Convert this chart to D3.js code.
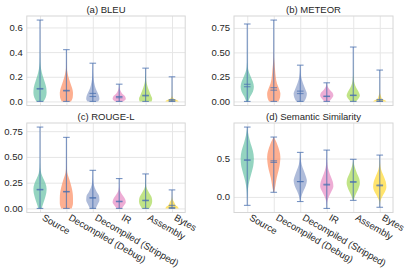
<!DOCTYPE html>
<html>
<head>
<meta charset="utf-8">
<script src="https://cdn.jsdelivr.net/npm/d3@7"></script>
<style>
  body { margin: 0; background: #fff; }
  text { font-family: "Liberation Sans", Arial, sans-serif; fill: #262626; }
  .grid line { stroke: #e6e6e6; stroke-width: 1; }
  .grid path { display: none; }
</style>
</head>
<body>
<div class="chart"></div>
<script>
// categories and panels
var categories = ["Source", "Decompiled (Debug)", "Decompiled (Stripped)", "IR", "Assembly", "Bytes"];
var panelTitles = ["(a) BLEU", "(b) METEOR", "(c) ROUGE-L", "(d) Semantic Similarity"];
var yTicks = [[0, 0.2, 0.4, 0.6], [0, 0.25, 0.5, 0.75], [0, 0.25, 0.5, 0.75], [0, 0.5]];
var yFormats = [".1f", ".2f", ".2f", ".1f"];
var colors = ["#66c2a5", "#fc8d62", "#8da0cb", "#e78ac3", "#a6d854", "#ffd92f"];

// extrema, means, medians (per panel, per category)
var mins = [
  [0, 0, 0, 0, 0, 0],
  [0, 0, 0, 0, 0, 0],
  [0, 0, 0, 0, 0, 0],
  [-0.11, 0.06, -0.06, -0.15, -0.045, -0.135]
];
var maxs = [
  [0.66, 0.42, 0.31, 0.14, 0.27, 0.20],
  [0.79, 0.83, 0.37, 0.19, 0.555, 0.32],
  [0.79, 0.69, 0.37, 0.29, 0.335, 0.18],
  [0.91, 0.78, 0.58, 0.61, 0.49, 0.545]
];
var means = [
  [0.105, 0.09, 0.065, 0.04, 0.05, 0.015],
  [0.175, 0.14, 0.105, 0.055, 0.065, 0.02],
  [0.185, 0.165, 0.105, 0.07, 0.08, 0.03],
  [0.48, 0.47, 0.2, 0.165, 0.2, 0.155]
];
var medians = [
  [0.10, 0.085, 0.04, 0.03, 0.045, 0.005],
  [0.15, 0.115, 0.08, 0.05, 0.06, 0.005],
  [0.18, 0.16, 0.10, 0.065, 0.075, 0.01],
  [0.48, 0.45, 0.2, 0.155, 0.19, 0.145]
];

// violin outlines: [value, relative half width]
var bleuShape = [
  [[0,0.55],[0.03,0.85],[0.07,1.0],[0.11,0.95],[0.16,0.7],[0.21,0.4],[0.26,0.18],[0.32,0.05],[0.4,0.015],[0.5,0.005],[0.66,0]],
  [[0,0.7],[0.03,0.95],[0.07,1.0],[0.11,0.85],[0.15,0.6],[0.2,0.3],[0.25,0.1],[0.3,0.03],[0.42,0]],
  [[0,0.8],[0.02,1.0],[0.05,0.9],[0.09,0.55],[0.13,0.3],[0.18,0.12],[0.23,0.04],[0.31,0]],
  [[0,0.6],[0.02,1.0],[0.04,0.9],[0.06,0.5],[0.08,0.25],[0.1,0.1],[0.14,0]],
  [[0,0.9],[0.02,1.0],[0.05,0.8],[0.09,0.5],[0.13,0.25],[0.17,0.08],[0.27,0]],
  [[0,1.0],[0.01,0.8],[0.02,0.35],[0.03,0.12],[0.05,0.03],[0.2,0]]
];
var meteorShape = [
  [[0,0.15],[0.05,0.45],[0.1,0.85],[0.15,1.0],[0.2,0.85],[0.25,0.55],[0.3,0.25],[0.35,0.08],[0.45,0.02],[0.79,0]],
  [[0,0.7],[0.04,0.95],[0.08,1.0],[0.13,0.8],[0.18,0.5],[0.25,0.3],[0.32,0.2],[0.38,0.12],[0.45,0.04],[0.55,0.01],[0.83,0]],
  [[0,0.6],[0.04,0.9],[0.08,1.0],[0.12,0.8],[0.17,0.5],[0.22,0.25],[0.27,0.1],[0.32,0.03],[0.37,0]],
  [[0,0.35],[0.03,0.75],[0.06,1.0],[0.09,0.85],[0.12,0.45],[0.15,0.15],[0.19,0]],
  [[0,0.4],[0.03,0.8],[0.06,1.0],[0.1,0.8],[0.14,0.45],[0.18,0.2],[0.24,0.06],[0.3,0.02],[0.555,0]],
  [[0,1.0],[0.01,0.85],[0.02,0.5],[0.03,0.3],[0.05,0.2],[0.07,0.1],[0.1,0.02],[0.32,0]]
];
var rougeShape = [
  [[0,0.25],[0.05,0.5],[0.1,0.75],[0.15,0.95],[0.19,1.0],[0.24,0.85],[0.29,0.5],[0.34,0.2],[0.4,0.05],[0.5,0.01],[0.79,0]],
  [[0,0.8],[0.05,1.0],[0.1,1.0],[0.15,0.95],[0.2,0.8],[0.25,0.6],[0.3,0.35],[0.35,0.12],[0.42,0.03],[0.69,0]],
  [[0,0.45],[0.04,0.75],[0.08,1.0],[0.12,0.95],[0.16,0.6],[0.2,0.3],[0.25,0.1],[0.3,0.02],[0.37,0]],
  [[0,0.4],[0.03,0.75],[0.06,1.0],[0.09,0.9],[0.12,0.6],[0.15,0.3],[0.18,0.1],[0.22,0.02],[0.29,0]],
  [[0,0.55],[0.03,0.85],[0.07,1.0],[0.11,0.9],[0.15,0.55],[0.19,0.2],[0.23,0.05],[0.335,0]],
  [[0,1.0],[0.015,0.9],[0.03,0.55],[0.05,0.4],[0.07,0.25],[0.09,0.08],[0.12,0.02],[0.18,0]]
];
var semShape = [
  [[-0.11,0],[0,0.03],[0.1,0.1],[0.2,0.3],[0.3,0.6],[0.4,0.9],[0.5,1.0],[0.6,0.85],[0.7,0.5],[0.8,0.2],[0.91,0]],
  [[0.06,0.05],[0.15,0.25],[0.25,0.45],[0.35,0.75],[0.45,0.95],[0.52,1.0],[0.6,0.85],[0.68,0.55],[0.74,0.25],[0.78,0]],
  [[-0.06,0.02],[0,0.15],[0.08,0.5],[0.15,0.85],[0.21,1.0],[0.28,0.8],[0.35,0.5],[0.42,0.22],[0.5,0.06],[0.58,0]],
  [[-0.15,0],[-0.07,0.05],[0,0.3],[0.07,0.7],[0.14,1.0],[0.2,0.9],[0.27,0.6],[0.34,0.3],[0.42,0.1],[0.5,0.03],[0.61,0]],
  [[-0.045,0.03],[0.02,0.3],[0.1,0.75],[0.18,1.0],[0.24,0.9],[0.3,0.6],[0.37,0.3],[0.43,0.1],[0.49,0]],
  [[-0.135,0],[-0.06,0.08],[0,0.35],[0.06,0.75],[0.13,1.0],[0.2,0.9],[0.27,0.6],[0.33,0.3],[0.4,0.1],[0.47,0.03],[0.545,0]]
];
var shapes = [bleuShape, meteorShape, rougeShape, semShape];

var svgWidth = 415, svgHeight = 277;
var svg = d3.select(".chart").append("svg")
  .attr("width", svgWidth)
  .attr("height", svgHeight);

// panel boxes
var cols = [[26.8, 185.2], [234, 393]];
var rows = [[16, 105.5], [123, 212.5]];
var lineColor = "#4c72b0";

panelTitles.forEach(function(title, p) {
  var xr = cols[p % 2], yr = rows[Math.floor(p / 2)];
  var width = xr[1] - xr[0], height = yr[1] - yr[0];
  var g = svg.append("g").attr("transform", "translate(" + xr[0] + "," + yr[0] + ")");

  var lo = d3.min(mins[p]), hi = d3.max(maxs[p]);
  var pad = (hi - lo) * 0.05;
  var y = d3.scaleLinear().domain([lo - pad, hi + pad]).range([height, 0]);
  var x = d3.scaleLinear().domain([0.5, 6.5]).range([0, width]);
  var halfW = x(1.25) - x(1);
  var capW = x(1.125) - x(1);

  // grid
  g.append("g").attr("class", "grid")
    .call(d3.axisLeft(y).tickValues(yTicks[p]).tickFormat(d3.format(yFormats[p]))
      .tickSize(-width).tickPadding(4))
    .selectAll("text").attr("font-size", "9.5px").style("font-family", "Liberation Sans, Arial, sans-serif").attr("fill", "#262626");
  g.append("g").attr("class", "grid")
    .attr("transform", "translate(0," + height + ")")
    .call(d3.axisBottom(x).tickValues([1, 2, 3, 4, 5, 6]).tickFormat("").tickSize(-height));

  // violins
  var area = d3.area()
    .y(function(d) { return y(d[0]); })
    .x0(function(d) { return -d[1] * halfW; })
    .x1(function(d) { return d[1] * halfW; })
    .curve(d3.curveMonotoneY);

  categories.forEach(function(c, i) {
    var cx = x(i + 1);
    var vg = g.append("g").attr("transform", "translate(" + cx + ",0)");
    vg.append("path")
      .attr("d", area(shapes[p][i]))
      .attr("fill", colors[i])
      .attr("fill-opacity", 0.7);

    vg.append("line")
      .attr("x1", 0).attr("x2", 0)
      .attr("y1", y(mins[p][i])).attr("y2", y(maxs[p][i]))
      .attr("stroke", lineColor).attr("stroke-opacity", 0.75).attr("stroke-width", 1.1);
    [mins[p][i], maxs[p][i], means[p][i], medians[p][i]].forEach(function(v) {
      vg.append("line")
        .attr("x1", -capW).attr("x2", capW)
        .attr("y1", y(v)).attr("y2", y(v))
        .attr("stroke", lineColor).attr("stroke-opacity", 0.75).attr("stroke-width", 1.1);
    });
  });

  // frame
  g.append("rect")
    .attr("width", width).attr("height", height)
    .attr("fill", "none").attr("stroke", "#d6d6d6").attr("stroke-width", 1);

  // title
  g.append("text")
    .attr("x", width / 2).attr("y", -3.5)
    .attr("text-anchor", "middle")
    .attr("font-size", "9.5px")
    .text(title);

  // rotated category labels on bottom row
  if (p >= 2) {
    categories.forEach(function(c, i) {
      g.append("text")
        .attr("transform", "translate(" + (x(i + 1) + 1.5) + "," + (height + 7) + ") rotate(30)")
        .attr("font-size", "9.5px")
        .text(c);
    });
  }
});
</script>
</body>
</html>
